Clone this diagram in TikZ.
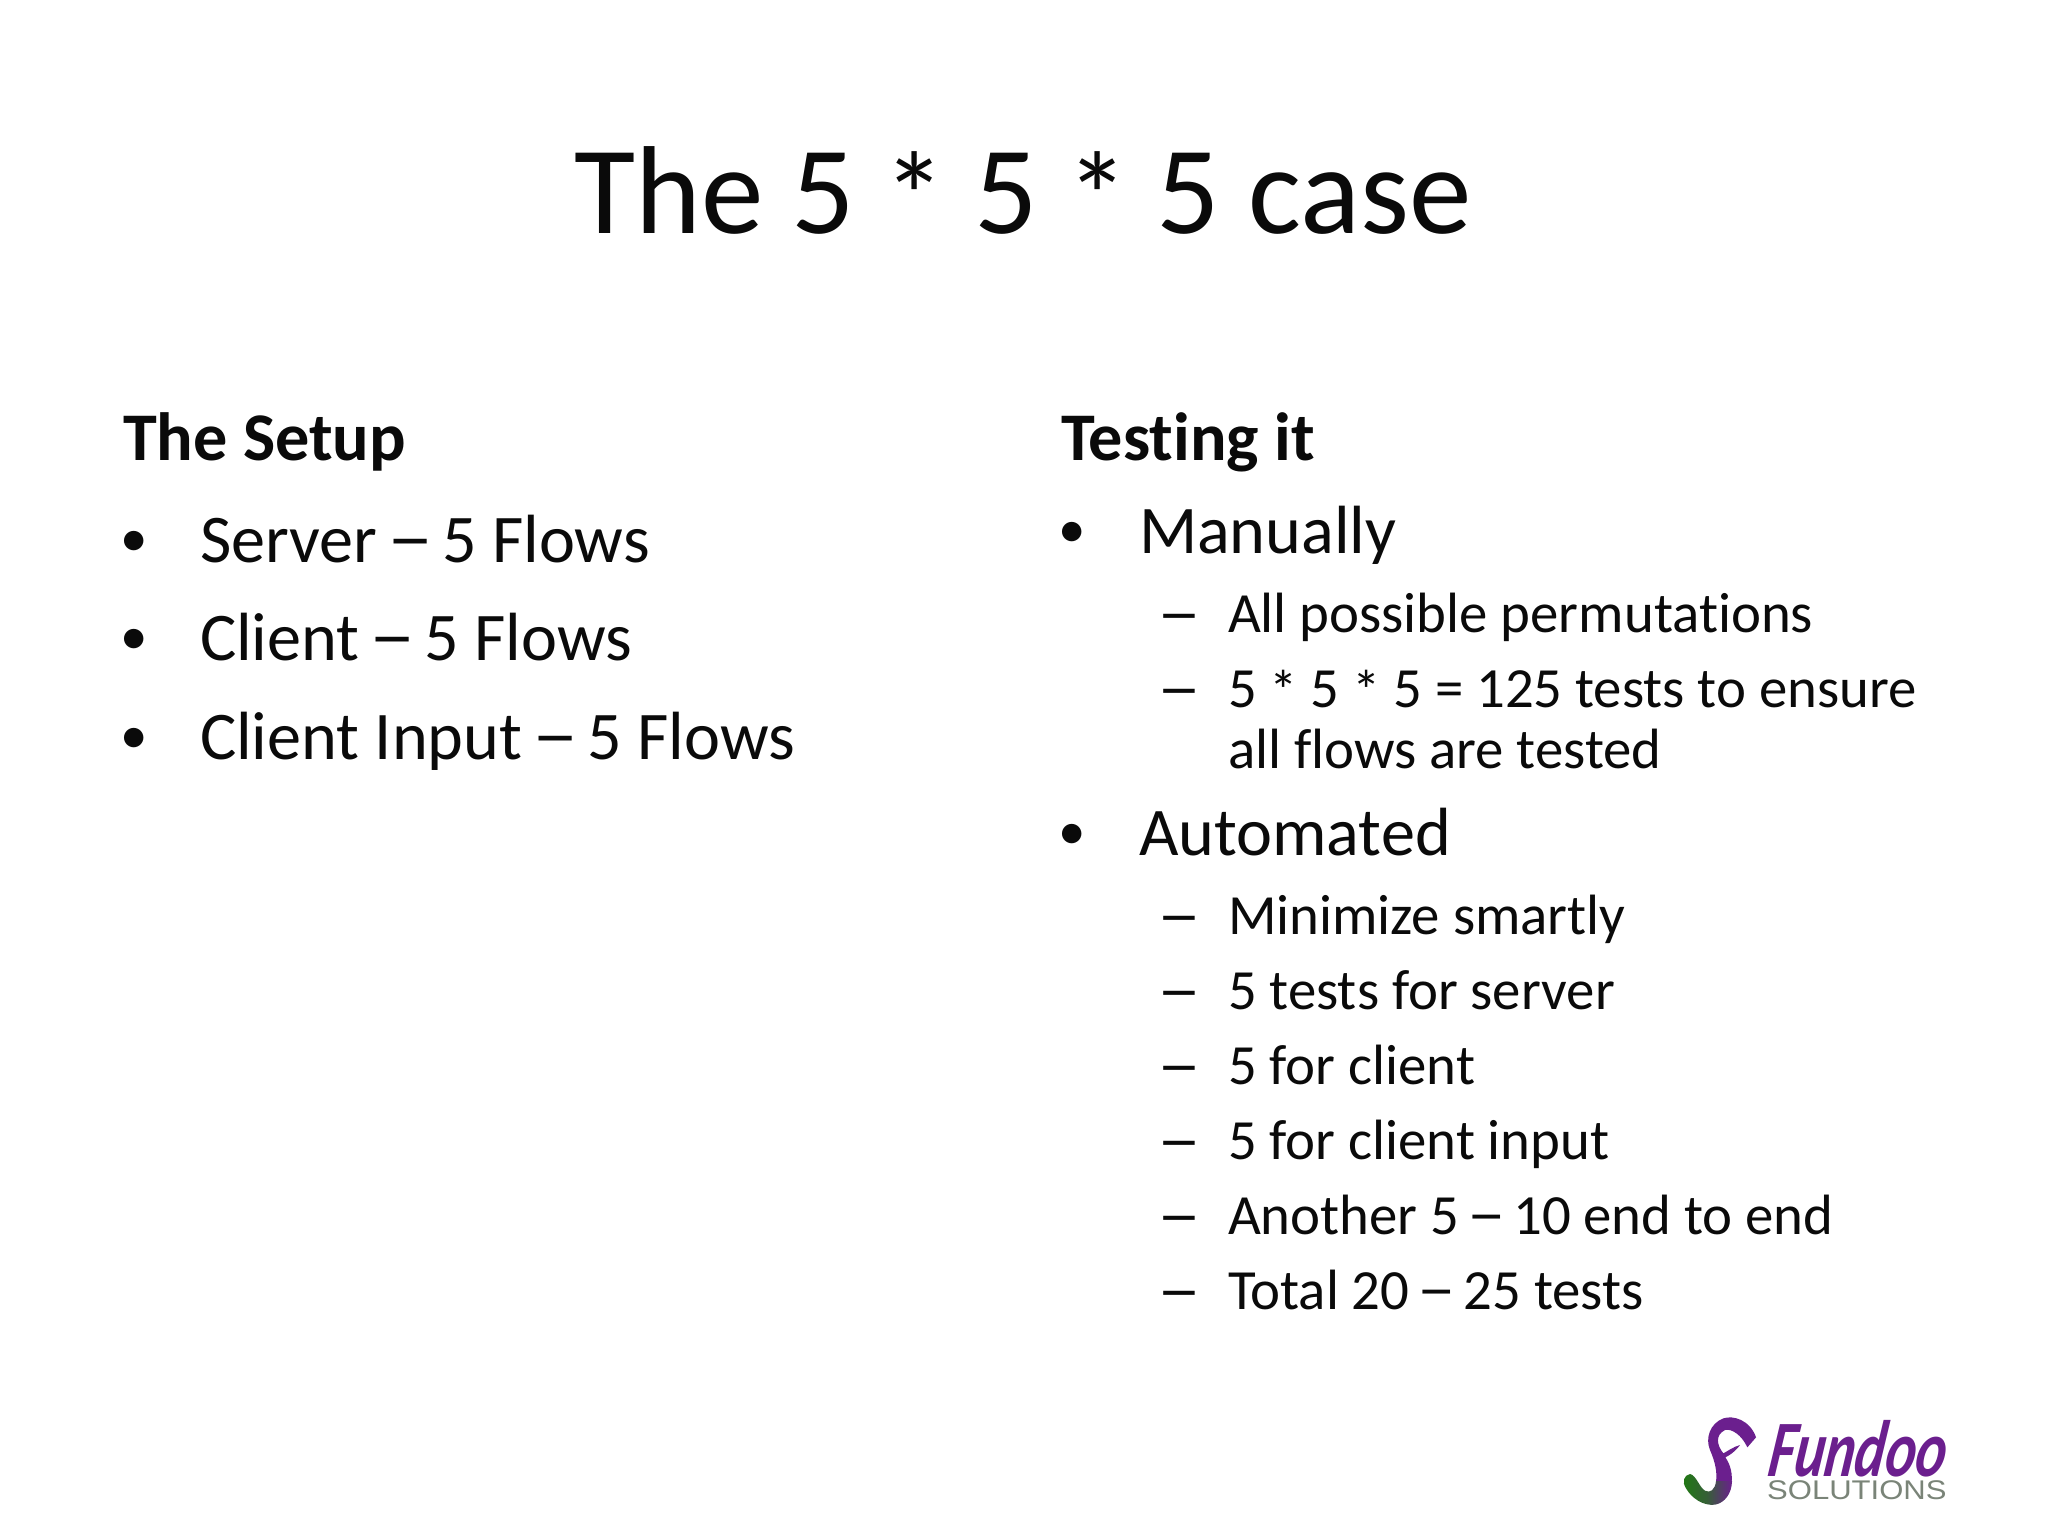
\documentclass[tikz,border=0pt]{standalone}
\usepackage{fontspec}
\setmainfont[Ligatures=CommonOff]{Carlito}
\newfontfamily\logosans{Liberation Sans}
\definecolor{ink}{HTML}{0A0A0A}
\definecolor{logopurple}{HTML}{6B1F8E}
\definecolor{logogreen}{HTML}{1F7A12}
\definecolor{logogray}{HTML}{7A8478}
\newcommand\ldash{\makebox[0pt][l]{\kern-0.08em\scalebox{1.36}[1.1]{–}}\phantom{–}}
\newcommand\lstar{\raisebox{-0.06em}{*}}
\tikzset{
 txt/.style={anchor=base west,inner sep=0pt,outer sep=0pt,text=ink},
 titletxt/.style={anchor=base,inner sep=0pt,text=ink,font=\fontsize{62.6}{70}\selectfont},
 head/.style={txt,font=\fontsize{34.1}{40}\selectfont\bfseries},
 lone/.style={txt,font=\fontsize{34.1}{40}\selectfont},
 ltwo/.style={txt,font=\fontsize{28.4}{34}\selectfont},
 bul/.style={txt,font=\fontsize{27.5}{30}\selectfont},
 dashm/.style={txt,font=\fontsize{28.4}{34}\selectfont,xscale=1.55,yscale=1.15,transform shape},
}
\begin{document}
\begin{tikzpicture}[x=0.5pt,y=-0.5pt]
\useasboundingbox (0,0) rectangle (2048,1536);
\fill[white] (0,0) rectangle (2048,1536);
\node[titletxt] (title) at (1023,233) {The 5 \lstar{} 5 \lstar{} 5 case};
% left column
\node[head] (lh) at (123,460) {The Setup};
\node[bul] (lb1) at (120,556) {•};
\node[lone] (l1) at (200,562) {Server \ldash{} 5 Flows};
\node[bul] (lb2) at (120,654) {•};
\node[lone] (l2) at (200,660) {Client \ldash{} 5 Flows};
\node[bul] (lb3) at (120,753) {•};
\node[lone] (l3) at (200,759) {Client Input \ldash{} 5 Flows};
% right column
\node[head] (rh) at (1061,460) {Testing it};
\node[bul] (rb1) at (1058.4,547) {•};
\node[lone] (r1) at (1139,553) {Manually};
\node[dashm] (rd1) at (1157,634.5) {–};
\node[ltwo] (r11) at (1228,632) {All possible permutations};
\node[dashm] (rd2) at (1157,709.5) {–};
\node[ltwo] (r12) at (1228,707) {5 \lstar{} 5 \lstar{} 5 = 125 tests to ensure};
\node[ltwo] (r12b) at (1228,768) {all flows are tested};
\node[bul] (rb2) at (1058.4,849) {•};
\node[lone] (r2) at (1139,855) {Automated};
\node[dashm] (rd3) at (1157,936.5) {–};
\node[ltwo] (r21) at (1228,934) {Minimize smartly};
\node[dashm] (rd4) at (1157,1011.5) {–};
\node[ltwo] (r22) at (1228,1009) {5 tests for server};
\node[dashm] (rd5) at (1157,1086.5) {–};
\node[ltwo] (r23) at (1228,1084) {5 for client};
\node[dashm] (rd6) at (1157,1161.5) {–};
\node[ltwo] (r24) at (1228,1159) {5 for client input};
\node[dashm] (rd7) at (1157,1236.5) {–};
\node[ltwo] (r25) at (1228,1234) {Another 5 \ldash{} 10 end to end};
\node[dashm] (rd8) at (1157,1311.5) {–};
\node[ltwo] (r26) at (1228,1309) {Total 20 \ldash{} 25 tests};
% logo
\begin{scope}[shift={(1660,1400)},x=0.1667pt,y=-0.1667pt]
\fill[logopurple] (288,112) .. controls (270,60) and (220,45) .. (190,55)
  .. controls (150,70) and (135,115) .. (150,150)
  .. controls (165,185) and (172,215) .. (168,245)
  -- (215,245) .. controls (218,210) and (205,185) .. (196,172)
  .. controls (210,165) and (225,155) .. (240,135)
  .. controls (220,140) and (200,155) .. (190,160)
  .. controls (170,135) and (165,105) .. (195,90)
  .. controls (215,85) and (245,105) .. (262,142) -- cycle;
\shade[left color=logogreen,right color=logopurple,middle color=logogreen!70!logopurple]
  (168,243) .. controls (165,270) and (150,280) .. (135,272)
  .. controls (118,262) and (108,225) .. (90,222)
  .. controls (72,225) and (65,245) .. (78,265)
  .. controls (95,295) and (130,318) .. (165,314)
  .. controls (195,308) and (215,280) .. (216,243) -- cycle;
\node[inner sep=0pt,anchor=base west,text=logopurple,font=\fontsize{40}{42}\selectfont\bfseries\itshape,xslant=0.15,xscale=0.72,transform shape] (fundoo) at (318,228) {Fundoo};
\node[inner sep=0pt,anchor=base west,text=logogray,font=\logosans\fontsize{13.5}{14}\selectfont,xscale=1.15,transform shape] (sol) at (320,297) {SOLUTIONS};
\end{scope}
\end{tikzpicture}
\end{document}
